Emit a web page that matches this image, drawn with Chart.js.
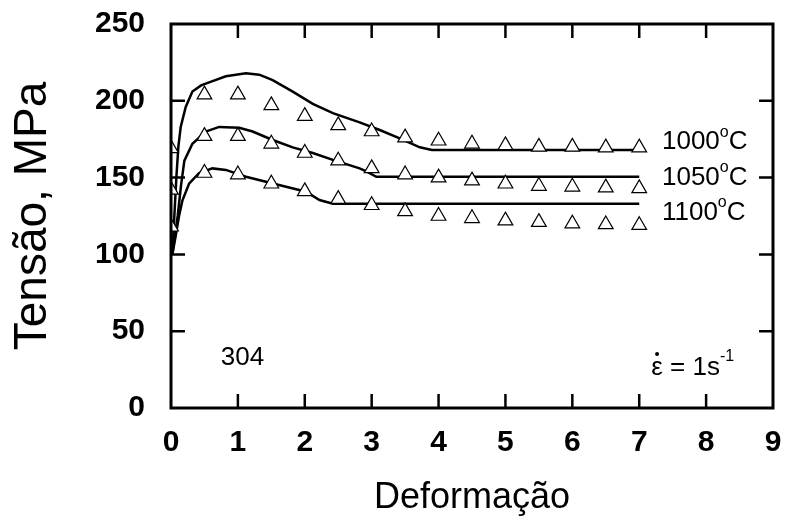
<!DOCTYPE html>
<html lang="pt">
<head>
<meta charset="UTF-8">
<title>Tensão x Deformação - 304</title>
<script src="https://cdn.jsdelivr.net/npm/chart.js"></script>
<style>
  html, body { margin: 0; padding: 0; background: #fff; }
  #wrap { width: 787px; height: 524px; }
</style>
</head>
<body>
<div id="wrap"><canvas id="myChart" width="787" height="524"></canvas></div>
<script>
// flow curves (solid lines)
const strain1000 = [0.02, 0.05, 0.08, 0.11, 0.145, 0.22, 0.32, 0.45, 0.57, 0.82, 1.12, 1.32, 1.52, 1.82, 2.12, 2.42, 2.82, 3.12, 3.42, 3.72, 3.9, 7];
const stress1000 = [100, 125, 150, 170, 183, 196, 206, 210, 212, 216, 218, 217, 213.5, 206, 198, 192, 186, 181, 175.6, 169.7, 168, 168];
const strain1050 = [0.02, 0.06, 0.1, 0.15, 0.2, 0.32, 0.52, 0.72, 1.02, 1.22, 1.52, 1.82, 2.12, 2.42, 2.82, 2.92, 3.07, 7];
const stress1050 = [100, 112, 125, 145, 161, 172, 180, 183, 182.5, 180, 174.5, 169.7, 166, 161.5, 156, 154, 150.5, 150.5];
const strain1100 = [0.02, 0.07, 0.12, 0.17, 0.27, 0.42, 0.62, 0.82, 1.12, 1.42, 1.72, 2.02, 2.22, 2.42, 7];
const stress1100 = [100, 112, 125, 135, 146, 153, 156, 155, 150.6, 147.3, 144, 140.8, 135.4, 133, 133];

// triangles
const strainPts = [0, 0.5, 1, 1.5, 2, 2.5, 3, 3.5, 4, 4.5, 5, 5.5, 6, 6.5, 7];
const tri1000 = [169, 204, 204, 197, 190, 184, 180, 176, 174, 172, 171, 170, 170, 169.5, 169.5];
const tri1050 = [142, 177, 177, 172, 166, 161, 156, 152, 150, 148, 146, 144.5, 144, 143.5, 143];
const tri1100 = [118, 153, 152, 146, 141, 136, 132, 128, 125, 123.5, 122, 121, 120, 119.5, 119];

const xTicks = [0, 1, 2, 3, 4, 5, 6, 7, 8, 9];
const yTicks = [0, 50, 100, 150, 200, 250];

// curve labels
const tempLabels = ['1000', '1050', '1100'];
const tempLabelY = [173, 150, 127];
const tempLabelX = 7.34;

const FONT = '"Liberation Sans", Arial, Helvetica, sans-serif';

function pts(xs, ys) {
    return xs.map((v, i) => ({x: v, y: ys[i]}));
}

function curve(xs, ys) {
    return {
        data: pts(xs, ys),
        showLine: true,
        borderColor: '#000',
        borderWidth: 2.5,
        pointRadius: 0,
        tension: 0,
        order: 2
    };
}

function tri(ys) {
    return {
        data: pts(strainPts, ys),
        showLine: false,
        pointStyle: 'triangle',
        pointRadius: 8.5,
        backgroundColor: '#fff',
        borderColor: '#000',
        borderWidth: 1.2,
        order: 1
    };
}

// frame, inward ticks and text notes
const frame = {
    id: 'frame',
    afterDraw(chart) {
        const {ctx, chartArea: a, scales: {x, y}} = chart;
        ctx.save();
        ctx.strokeStyle = '#000';
        ctx.lineWidth = 3;
        ctx.strokeRect(a.left, a.top, a.right - a.left, a.bottom - a.top);
        ctx.lineWidth = 2.5;
        ctx.beginPath();
        xTicks.slice(1, -1).forEach(v => {
            const px = x.getPixelForValue(v);
            ctx.moveTo(px, a.bottom); ctx.lineTo(px, a.bottom - 14);
            ctx.moveTo(px, a.top); ctx.lineTo(px, a.top + 14);
        });
        yTicks.slice(1, -1).forEach(v => {
            const py = y.getPixelForValue(v);
            ctx.moveTo(a.left, py); ctx.lineTo(a.left + 14, py);
            ctx.moveTo(a.right, py); ctx.lineTo(a.right - 14, py);
        });
        ctx.stroke();

        ctx.fillStyle = '#000';
        ctx.textBaseline = 'middle';
        ctx.textAlign = 'left';
        tempLabels.forEach((t, i) => {
            let px = x.getPixelForValue(tempLabelX);
            const py = y.getPixelForValue(tempLabelY[i]);
            ctx.font = '26px ' + FONT;
            ctx.fillText(t, px, py);
            px += ctx.measureText(t).width;
            ctx.font = '16px ' + FONT;
            ctx.fillText('o', px, py - 10);
            px += ctx.measureText('o').width;
            ctx.font = '26px ' + FONT;
            ctx.fillText('C', px, py);
        });

        ctx.font = '26px ' + FONT;
        ctx.fillText('304', x.getPixelForValue(0.744), y.getPixelForValue(32.5));

        ctx.textBaseline = 'alphabetic';
        let ex = x.getPixelForValue(7.18);
        const ey = y.getPixelForValue(21.5);
        ctx.fillText('\u03b5', ex, ey);
        const ew = ctx.measureText('\u03b5').width;
        ctx.beginPath();
        ctx.arc(ex + ew / 2, ey - 21, 2, 0, Math.PI * 2);
        ctx.fill();
        ex += ew;
        ctx.fillText(' = 1s', ex, ey);
        ex += ctx.measureText(' = 1s').width;
        ctx.font = '16px ' + FONT;
        ctx.fillText('-1', ex, ey - 14);
        ctx.restore();
    }
};

const config = {
    type: 'scatter',
    data: {
        datasets: [
            tri(tri1000), tri(tri1050), tri(tri1100),
            curve(strain1000, stress1000), curve(strain1050, stress1050), curve(strain1100, stress1100)
        ]
    },
    options: {
        responsive: false,
        animation: false,
        layout: { padding: { left: 0, right: 14, top: 24, bottom: 0 } },
        plugins: { legend: { display: false }, tooltip: { enabled: false } },
        scales: {
            x: {
                type: 'linear',
                min: 0, max: 9,
                afterBuildTicks: s => { s.ticks = xTicks.map(v => ({value: v})); },
                afterFit: s => { s.height = 116; s.paddingLeft = 0; s.paddingRight = 0; },
                grid: { display: false, drawTicks: false },
                border: { display: false },
                ticks: { color: '#000', padding: 17, font: { family: FONT, size: 30, weight: 'bold' } },
                title: {
                    display: true, text: 'Deformação', color: '#000',
                    padding: { top: 0, bottom: 4 },
                    font: { family: FONT, size: 36 }
                }
            },
            y: {
                type: 'linear',
                min: 0, max: 250,
                afterBuildTicks: s => { s.ticks = yTicks.map(v => ({value: v})); },
                afterFit: s => { s.width = 171; s.paddingTop = 0; s.paddingBottom = 0; },
                grid: { display: false, drawTicks: false },
                border: { display: false },
                ticks: { color: '#000', padding: 26, font: { family: FONT, size: 30, weight: 'bold' } },
                title: {
                    display: true, text: 'Tensão, MPa', color: '#000',
                    padding: { top: 6, bottom: 0 },
                    font: { family: FONT, size: 46 }
                }
            }
        }
    },
    plugins: [frame]
};

new Chart(document.getElementById('myChart'), config);
</script>
</body>
</html>
